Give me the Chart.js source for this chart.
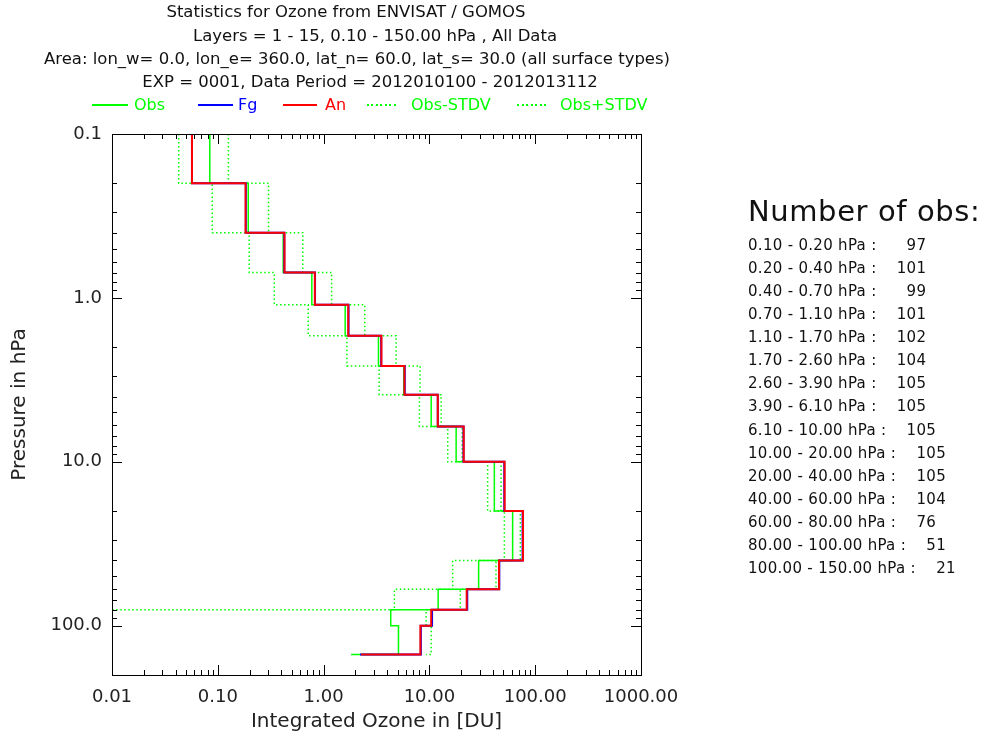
<!DOCTYPE html>
<html>
<head>
<meta charset="utf-8">
<script src="https://cdn.jsdelivr.net/npm/chart.js@4.4.1/dist/chart.umd.min.js"></script>
<style>
body { margin: 0; background: #fff; }
#wrap { position: relative; width: 981px; height: 742px; font-family: "DejaVu Sans", sans-serif; color: #111; }
#wrap canvas { position: absolute; left: 0; top: 0; }
.t { position: absolute; white-space: pre; transform: translate(-50%, -50%); font-size: 16.5px; line-height: 20px; }
.lg { position: absolute; white-space: pre; font-size: 16px; line-height: 20px; top: 95px; }
.ls { position: absolute; top: 104px; height: 1.5px; }
.ld { position: absolute; top: 104px; height: 2px; background: repeating-linear-gradient(to right, #00ff00 0 2px, transparent 2px 4.5px); }
.nob { position: absolute; left: 748px; white-space: pre; }
</style>
</head>
<body>
<div id="wrap">
  <canvas id="ozone" width="981" height="742"></canvas>

  <div class="t" style="left:346px; top:12px">Statistics for Ozone from ENVISAT / GOMOS</div>
  <div class="t" style="left:375px; top:36px">Layers = 1 - 15, 0.10 - 150.00 hPa , All Data</div>
  <div class="t" style="left:357px; top:59px">Area: lon_w= 0.0, lon_e= 360.0, lat_n= 60.0, lat_s= 30.0 (all surface types)</div>
  <div class="t" style="left:370px; top:82px">EXP = 0001, Data Period = 2012010100 - 2012013112</div>

  <div class="ls" style="left:92px; width:36px; background:#00ff00"></div>
  <div class="lg" style="left:134px; color:#00ff00">Obs</div>
  <div class="ls" style="left:198px; width:35px; background:#0000ff"></div>
  <div class="lg" style="left:238px; color:#0000ff">Fg</div>
  <div class="ls" style="left:283px; width:34px; background:#ff0000"></div>
  <div class="lg" style="left:325px; color:#ff0000">An</div>
  <div class="ld" style="left:367px; width:30px"></div>
  <div class="lg" style="left:411px; color:#00ff00">Obs-STDV</div>
  <div class="ld" style="left:517px; width:30px"></div>
  <div class="lg" style="left:560px; color:#00ff00">Obs+STDV</div>

  <div id="obsPanel"></div>
</div>

<script>
// layer edges, top to bottom (hPa)
const pressureBounds = [0.1, 0.2, 0.4, 0.7, 1.1, 1.7, 2.6, 3.9, 6.1, 10, 20, 40, 60, 80, 100, 150];

// integrated ozone per layer [DU]
const obs = [0.084, 0.194, 0.415, 0.774, 1.60, 3.30, 5.72, 10.4, 17.9, 41.1, 61.2, 29.2, 12.1, 4.31, 5.10];
const fg  = [0.057, 0.184, 0.425, 0.830, 1.72, 3.50, 5.85, 12.0, 21.0, 51.0, 76.0, 45.8, 22.8, 10.6, 8.30];
const an  = [0.057, 0.183, 0.427, 0.826, 1.71, 3.52, 5.81, 12.0, 21.1, 51.4, 76.7, 45.5, 22.5, 10.4, 8.22];
// obs - stdv is negative in the two lowest layers, it sits on the axis floor
const obsMinusStdv = [0.0427, 0.0887, 0.198, 0.342, 0.716, 1.66, 3.35, 8.05, 14.9, 35.5, 51.1, 16.6, 4.67, 0.01, 0.01];
const obsPlusStdv  = [0.126, 0.302, 0.636, 1.19, 2.45, 4.85, 8.17, 12.9, 20.4, 47.5, 72.3, 42.6, 19.6, 9.31, 10.4];

// where each histogram line ends along the bottom edge
const leadObs = 1.82;
const leadFg = 2.21;
const leadAn = 2.26;
const leadMinus = 0.01;
const leadPlus = 9.3;

const obsCounts = [97, 101, 99, 101, 102, 104, 105, 105, 105, 105, 105, 104, 76, 51, 21];

const xTickValues = [0.01, 0.1, 1, 10, 100, 1000];
const xTickLabels = ['0.01', '0.10', '1.00', '10.00', '100.00', '1000.00'];
const yTickValues = [0.1, 1, 10, 100];
const yTickLabels = ['0.1', '1.0', '10.0', '100.0'];

const FONT = '"DejaVu Sans", sans-serif';

function steps(vals, lead) {
  var pts = [];
  vals.forEach(function(v, i) {
    pts.push({x: v, y: pressureBounds[i]});
    pts.push({x: v, y: pressureBounds[i + 1]});
  });
  pts.push({x: lead, y: pressureBounds[pressureBounds.length - 1]});
  return pts;
}

// number of obs panel on the right
var panel = document.getElementById('obsPanel');
var head = document.createElement('div');
head.className = 'nob';
head.style.cssText = 'top:193px; font-size:29px; line-height:36px; letter-spacing:0.6px;';
head.textContent = 'Number of obs:';
panel.appendChild(head);
obsCounts.forEach(function(n, i) {
  var lo = pressureBounds[i], hi = pressureBounds[i + 1];
  var cnt = String(n);
  if (lo < 10) cnt = cnt.padStart(3, '\u2007');
  var row = document.createElement('div');
  row.className = 'nob';
  row.style.cssText = 'top:' + (236 + i * 23.07) + 'px; font-size:15px; line-height:18px; letter-spacing:0.3px;';
  row.textContent = lo.toFixed(2) + ' - ' + hi.toFixed(2) + ' hPa :    ' + cnt;
  panel.appendChild(row);
});

// box around the plot with inward ticks, like the original
const frameTicks = {
  id: 'frameTicks',
  afterDatasetsDraw(chart) {
    const {ctx, chartArea: a, scales: {x, y}} = chart;
    ctx.save();
    ctx.strokeStyle = '#000';
    ctx.lineWidth = 1;
    ctx.beginPath();
    for (let d = -2; d <= 3; d++) {
      for (let m = 1; m <= 9; m++) {
        const v = m * Math.pow(10, d);
        if (v < x.min || v > x.max) continue;
        const px = Math.round(x.getPixelForValue(v)) + 0.5;
        const len = m === 1 ? 10 : 5;
        ctx.moveTo(px, a.bottom); ctx.lineTo(px, a.bottom - len);
        ctx.moveTo(px, a.top); ctx.lineTo(px, a.top + len);
      }
    }
    for (let d = -1; d <= 2; d++) {
      for (let m = 1; m <= 9; m++) {
        const v = m * Math.pow(10, d);
        if (v < y.min || v > y.max) continue;
        const py = Math.round(y.getPixelForValue(v)) + 0.5;
        const len = m === 1 ? 10 : 5;
        ctx.moveTo(a.left, py); ctx.lineTo(a.left + len, py);
        ctx.moveTo(a.right, py); ctx.lineTo(a.right - len, py);
      }
    }
    ctx.stroke();
    ctx.strokeRect(Math.round(a.left) + 0.5, Math.round(a.top) + 0.5,
                   Math.round(a.right - a.left), Math.round(a.bottom - a.top));
    ctx.restore();
  }
};

function line(label, data, color, width, dash) {
  return {
    label: label,
    data: data,
    showLine: true,
    borderColor: color,
    backgroundColor: color,
    borderWidth: width,
    borderDash: dash || [],
    pointRadius: 0,
    fill: false,
    tension: 0
  };
}

new Chart(document.getElementById('ozone'), {
  type: 'scatter',
  data: {
    datasets: [
      line('An', steps(an, leadAn), '#ff0000', 2),
      line('Fg', steps(fg, leadFg), '#0000ff', 2),
      line('Obs', steps(obs, leadObs), '#00ff00', 1.5),
      line('Obs-STDV', steps(obsMinusStdv, leadMinus), '#00ff00', 1.5, [1.5, 2.5]),
      line('Obs+STDV', steps(obsPlusStdv, leadPlus), '#00ff00', 1.5, [1.5, 2.5])
    ]
  },
  options: {
    responsive: false,
    animation: false,
    layout: { padding: { top: 134, right: 340, left: 0, bottom: 0 } },
    plugins: {
      legend: { display: false },
      tooltip: { enabled: false }
    },
    scales: {
      x: {
        type: 'logarithmic',
        min: 0.01,
        max: 1000,
        grid: { display: false },
        border: { display: false },
        afterFit: function(s) { s.height = 67; },
        afterBuildTicks: function(s) { s.ticks = xTickValues.map(function(v) { return {value: v}; }); },
        ticks: {
          autoSkip: false,
          maxRotation: 0,
          padding: 4,
          color: '#222',
          font: { family: FONT, size: 18 },
          callback: function(v, i) { return xTickLabels[i]; }
        },
        title: {
          display: true,
          text: 'Integrated Ozone in [DU]',
          color: '#222',
          font: { family: FONT, size: 20 },
          padding: { top: 0, bottom: 8 }
        }
      },
      y: {
        type: 'logarithmic',
        reverse: true,
        min: 0.1,
        max: 200,
        grid: { display: false },
        border: { display: false },
        afterFit: function(s) { s.width = 112; },
        afterBuildTicks: function(s) { s.ticks = yTickValues.map(function(v) { return {value: v}; }); },
        ticks: {
          autoSkip: false,
          padding: 2,
          color: '#222',
          font: { family: FONT, size: 18 },
          callback: function(v, i) { return yTickLabels[i]; }
        },
        title: {
          display: true,
          text: 'Pressure in hPa',
          color: '#222',
          font: { family: FONT, size: 20 },
          padding: { top: 8, bottom: 0 }
        }
      }
    }
  },
  plugins: [frameTicks]
});
</script>
</body>
</html>
